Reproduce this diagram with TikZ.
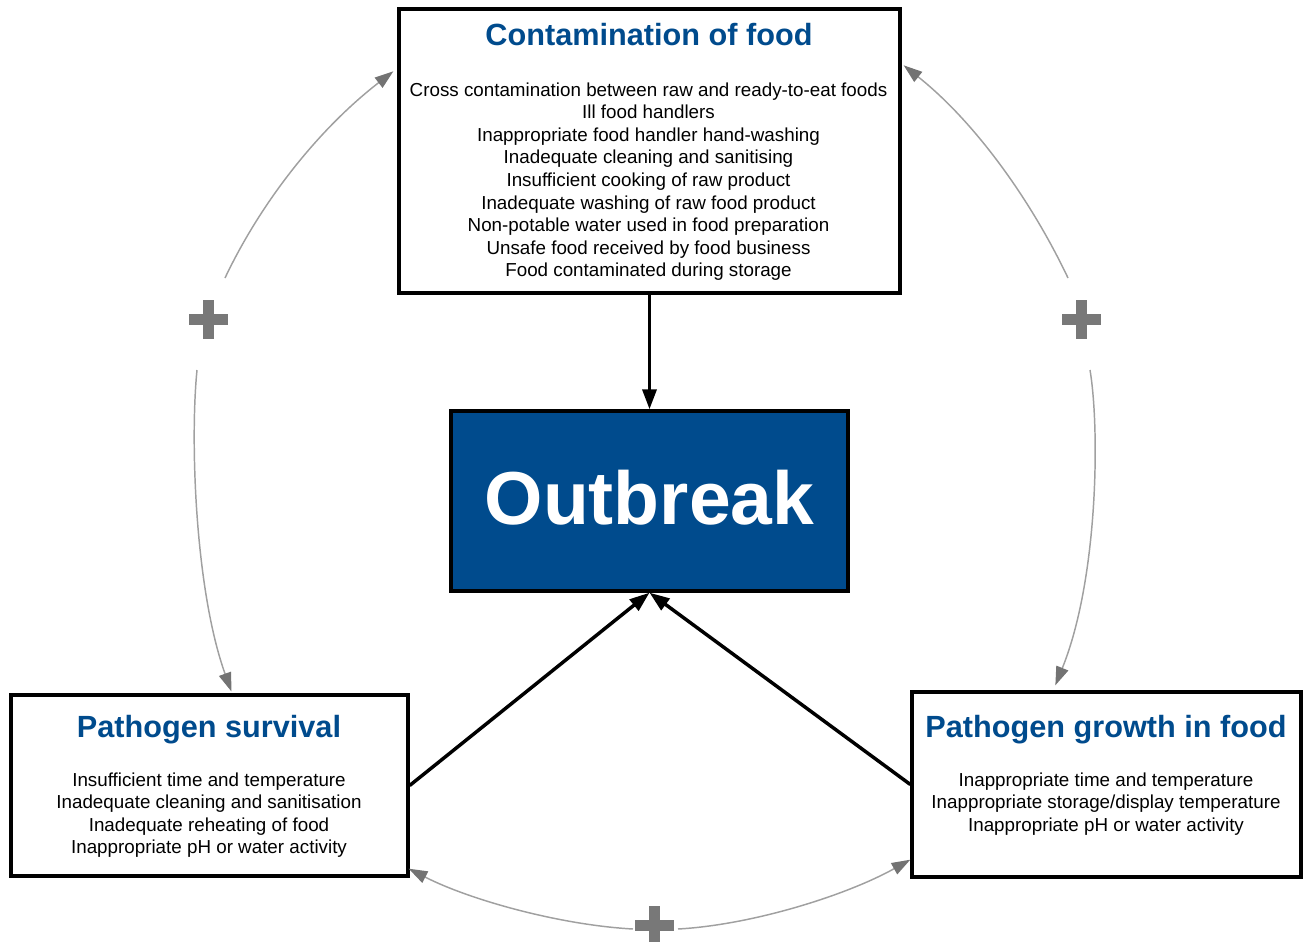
\documentclass[tikz,border=0pt]{standalone}
\usepackage{fontspec}
\setmainfont{Liberation Sans}
\usetikzlibrary{arrows.meta}
\definecolor{obblue}{RGB}{0,75,141}
\definecolor{curvegray}{RGB}{160,160,160}
\definecolor{tipgray}{RGB}{115,115,115}
\definecolor{plusgray}{RGB}{120,120,120}
\begin{document}
\begin{tikzpicture}[x=0.75pt,y=-0.75pt,
  box/.style={draw=black,line width=2.5pt,fill=white,inner sep=0pt},
  mainbox/.style={draw=black,line width=2.5pt,fill=obblue,inner sep=0pt},
  ttl/.style={font=\fontsize{23}{27}\selectfont\bfseries,text=obblue,inner sep=0pt,anchor=base},
  bodytxt/.style={font=\fontsize{14.1}{17}\selectfont,inner sep=0pt,anchor=base},
  bigtxt/.style={font=\fontsize{56.3}{60}\selectfont\bfseries,text=white,inner sep=0pt,anchor=base},
  mainarrow/.style={-{Triangle[length=15pt,width=10.5pt]},line width=2.6pt,draw=black},
  loop/.style={-{Triangle[length=14pt,width=9.5pt,color=tipgray]},draw=curvegray,line width=1.1pt},
  plusbar/.style={fill=plusgray}
]
\useasboundingbox (0,0) rectangle (1306,942);

% boxes
\node[box,minimum width=375.75pt,minimum height=213pt] (topbox) at (649.5,151) {};
\node[mainbox,minimum width=297.75pt,minimum height=135pt] (out) at (649.5,501) {};
\node[box,minimum width=297.75pt,minimum height=135.75pt] (leftbox) at (209.5,785.5) {};
\node[box,minimum width=291.75pt,minimum height=138.75pt] (rightbox) at (1106.5,784.5) {};

% titles
\node[ttl] (toptitle) at (649,46) {Contamination of food};
\node[ttl] (lefttitle) at (209,737.5) {Pathogen survival};
\node[ttl] (righttitle) at (1106,737) {Pathogen growth in food};
\node[bigtxt] (outtxt) at (649.5,524) {Outbreak};

% body texts
\foreach \t [count=\i] in {Cross contamination between raw and ready-to-eat foods,
  Ill food handlers,
  Inappropriate food handler hand-washing,
  Inadequate cleaning and sanitising,
  Insufficient cooking of raw product,
  Inadequate washing of raw food product,
  Non-potable water used in food preparation,
  Unsafe food received by food business,
  Food contaminated during storage}
  \node[bodytxt] (c\i) at ({648.5},{96+22.6*(\i-1)}) {\t};

\foreach \t [count=\i] in {Insufficient time and temperature,
  Inadequate cleaning and sanitisation,
  Inadequate reheating of food,
  Inappropriate pH or water activity}
  \node[bodytxt] (s\i) at ({209},{786+22.6*(\i-1)}) {\t};

\foreach \t [count=\i] in {Inappropriate time and temperature,
  Inappropriate storage/display temperature,
  Inappropriate pH or water activity}
  \node[bodytxt] (g\i) at ({1106},{786+22.6*(\i-1)}) {\t};

% main arrows
\draw[mainarrow] (topbox.south) -- (out.north);
\draw[mainarrow] (leftbox.east) -- (out.south);
\draw[mainarrow] (rightbox.west) -- (out.south);

% plus signs
\fill[plusbar] (189,313.5) rectangle (228,324.5);
\fill[plusbar] (203,300) rectangle (214,339);
\fill[plusbar] (1062,313.5) rectangle (1101,324.5);
\fill[plusbar] (1076,300) rectangle (1087,339);
\fill[plusbar] (635,920) rectangle (674,931);
\fill[plusbar] (649,906) rectangle (660,945);

% loop curve start points
\coordinate (a1) at (225,278);
\coordinate (a2) at (197,370);
\coordinate (a3) at (1068,278);
\coordinate (a4) at (1090,370);
\coordinate (a5) at (633,929);
\coordinate (a6) at (678,929);

% loop curves
\draw[loop] (a1) .. controls (262,200) and (320,128) .. ([shift={(-4,64)}]topbox.north west);
\draw[loop] (a2) .. controls (190,440) and (195,590) .. ([shift={(222,-2)}]leftbox.north west);
\draw[loop] (a3) .. controls (1031,200) and (975,122) .. ([shift={(2,58)}]topbox.north east);
\draw[loop] (a4) .. controls (1100,430) and (1098,580) .. ([shift={(145,-5)}]rightbox.north west);
\draw[loop] (a5) .. controls (560,925) and (470,900) .. ([shift={(-1,-9)}]leftbox.south east);
\draw[loop] (a6) .. controls (751,925) and (845,896) .. ([shift={(0,-19)}]rightbox.south west);
\end{tikzpicture}
\end{document}
